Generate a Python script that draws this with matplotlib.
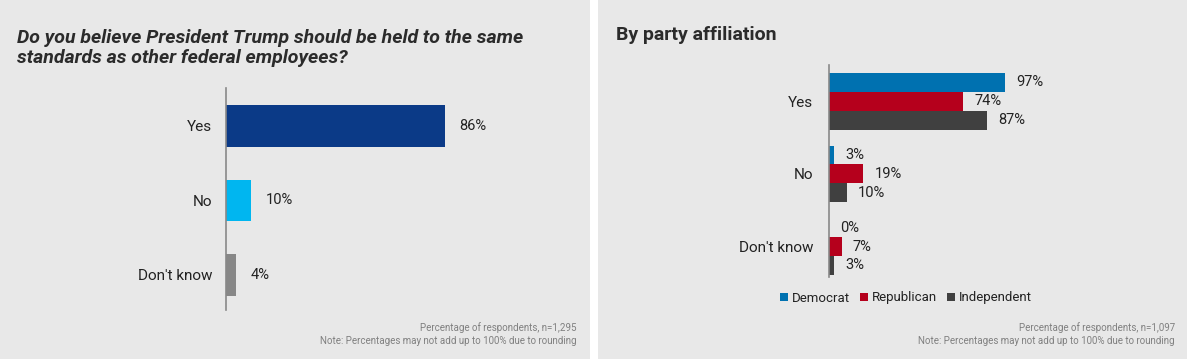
import matplotlib
matplotlib.use("Agg")
import matplotlib.pyplot as plt
from matplotlib.patches import Rectangle, Patch

plt.rcParams['font.family'] = ['Roboto', 'DejaVu Sans']

W, H = 1187, 359
categories = ["Yes", "No", "Don't know"]
overall = [86, 10, 4]
overall_colors = ["#0b3a87", "#00b6f0", "#878787"]

parties = ["Democrat", "Republican", "Independent"]
democrat = [97, 3, 0]
republican = [74, 19, 7]
independent = [87, 10, 3]
party_colors = ["#0071b0", "#b5001c", "#404040"]

title_left = "Do you believe President Trump should be held to the same\nstandards as other federal employees?"
title_right = "By party affiliation"
note_left = "Percentage of respondents, n=1,295\nNote: Percentages may not add up to 100% due to rounding"
note_right = "Percentage of respondents, n=1,097\nNote: Percentages may not add up to 100% due to rounding"

fig = plt.figure(figsize=(W / 100, H / 100), dpi=100)
fig.patch.set_facecolor("white")
bg = "#e8e8e8"
fig.add_artist(Rectangle((0, 0), 590 / W, 1, transform=fig.transFigure, facecolor=bg, edgecolor="none", zorder=0))
fig.add_artist(Rectangle((598 / W, 0), 1 - 598 / W, 1, transform=fig.transFigure, facecolor=bg, edgecolor="none", zorder=0))

def px(x0, y_top, w, h):
    return [x0 / W, (H - y_top - h) / H, w / W, h / H]

# Left chart
ax1 = fig.add_axes(px(226, 88, 254.7, 222))
ax1.set_facecolor("none")
y = list(range(len(categories)))
ax1.barh(y, overall, height=0.56, color=overall_colors)
ax1.set_xlim(0, 100)
ax1.set_ylim(2.47, -0.51)
ax1.set_yticks(y)
ax1.set_yticklabels(categories, fontsize=11, color="#222222")
ax1.set_xticks([])
ax1.tick_params(axis="y", length=0, pad=10)
for s in ["top", "right", "bottom"]:
    ax1.spines[s].set_visible(False)
ax1.spines["left"].set_color("#888888")
ax1.spines["left"].set_linewidth(1.2)
for yi, v in zip(y, overall):
    ax1.annotate(f"{v}%", (v, yi), xytext=(14, 0), textcoords="offset pixels",
                 va="center", ha="left", fontsize=10.5, color="#222222")

fig.text(17 / W, 1 - 48 / H, title_left, fontsize=14, fontweight="bold", fontstyle="italic",
         color="#2b2b2b", ha="left", va="center", linespacing=1.2)
fig.text(576 / W, 1 - 334 / H, note_left, fontsize=7, color="#808080", ha="right", va="center",
         multialignment="right", linespacing=1.3)

# Right chart
ax2 = fig.add_axes(px(829, 65, 181.4, 212))
ax2.set_facecolor("none")
bh = 0.26
series = [democrat, republican, independent]
for i, (vals, col) in enumerate(zip(series, party_colors)):
    pos = [g + (i - 1) * bh for g in y]
    ax2.barh(pos, vals, height=bh, color=col, label=parties[i])
    for p, v in zip(pos, vals):
        ax2.annotate(f"{v}%", (v, p), xytext=(11, 0), textcoords="offset pixels",
                     va="center", ha="left", fontsize=10.5, color="#222222")
ax2.set_xlim(0, 100)
ax2.set_ylim(2.42, -0.5)
ax2.set_yticks(y)
ax2.set_yticklabels(categories, fontsize=11, color="#222222")
ax2.set_xticks([])
ax2.tick_params(axis="y", length=0, pad=11.5)
for s in ["top", "right", "bottom"]:
    ax2.spines[s].set_visible(False)
ax2.spines["left"].set_color("#888888")
ax2.spines["left"].set_linewidth(1.2)

handles = [Patch(facecolor=c, edgecolor="none") for c in party_colors]
fig.legend(handles, parties, loc="center", bbox_to_anchor=(906 / W, 1 - 298 / H), ncol=3,
           frameon=False, fontsize=9.5, handlelength=0.55, handleheight=0.55,
           handletextpad=0.3, columnspacing=0.8, labelcolor="#222222")

fig.text(616 / W, 1 - 35 / H, title_right, fontsize=14, fontweight="bold",
         color="#2b2b2b", ha="left", va="center")
fig.text(1175 / W, 1 - 334 / H, note_right, fontsize=7, color="#808080", ha="right", va="center",
         multialignment="right", linespacing=1.3)

fig.savefig("out.png", dpi=100, facecolor=fig.get_facecolor())
